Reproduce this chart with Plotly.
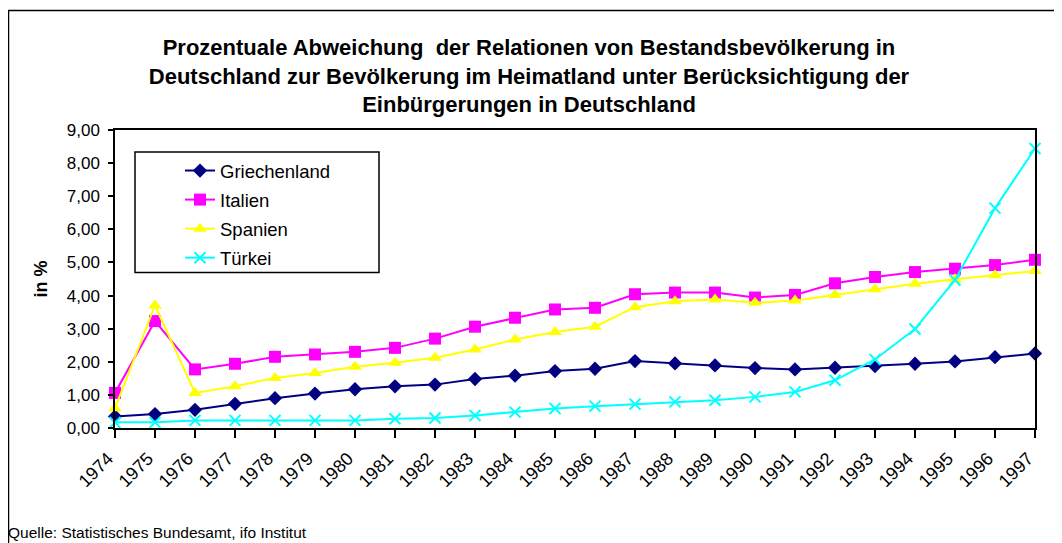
import plotly.graph_objects as go

years = list(range(1974, 1998))
year_labels = [str(y) for y in years]

griechenland = [0.35, 0.42, 0.55, 0.73, 0.90, 1.04, 1.17, 1.26, 1.31, 1.48, 1.58, 1.72, 1.79, 2.02, 1.95,
                1.89, 1.81, 1.77, 1.82, 1.87, 1.94, 2.01, 2.14, 2.25]
italien = [1.06, 3.23, 1.77, 1.94, 2.15, 2.22, 2.30, 2.42, 2.70, 3.06, 3.33, 3.58, 3.63, 4.04, 4.09,
           4.09, 3.94, 4.02, 4.37, 4.56, 4.71, 4.81, 4.92, 5.08]
spanien = [0.60, 3.70, 1.06, 1.26, 1.51, 1.66, 1.85, 1.97, 2.12, 2.37, 2.67, 2.90, 3.06, 3.65, 3.83,
           3.88, 3.78, 3.85, 4.02, 4.19, 4.36, 4.49, 4.61, 4.74]
tuerkei = [0.17, 0.17, 0.23, 0.23, 0.23, 0.23, 0.23, 0.28, 0.30, 0.38, 0.48, 0.59, 0.66, 0.72, 0.79,
           0.84, 0.94, 1.09, 1.44, 2.07, 2.99, 4.47, 6.64, 8.44]

series = [
    ("Griechenland", griechenland, "#000080", "diamond", 11),
    ("Italien", italien, "#FF00FF", "square", 12),
    ("Spanien", spanien, "#FFFF00", "triangle-up", 12),
    ("Türkei", tuerkei, "#00FFFF", "x-thin", 11),
]

# the page body adds an 8px offset; all positions below are page pixels
OFF = 8
W, H = 1062 - OFF, 543 - OFF
L, R, T, B = 115 - OFF, 1035 - OFF, 130 - OFF, 428 - OFF
pw, ph = R - L, B - T

def px(x):
    return (x - OFF - L) / pw

def py(y):
    return (B - (y - OFF)) / ph

fig = go.Figure()
for i, (name, vals, color, sym, size) in enumerate(series):
    marker = dict(symbol=sym, size=size, color=color)
    if sym == "x-thin":
        marker["line"] = dict(color=color, width=2)
    fig.add_trace(go.Scatter(
        x=years, y=vals, name=name, mode="lines+markers", legendgroup=f"g{i}",
        line=dict(color=color, width=2), marker=marker, cliponaxis=False,
    ))

fig.update_layout(
    width=W, height=H,
    margin=dict(l=L, r=W - R, t=T, b=H - B),
    paper_bgcolor="white", plot_bgcolor="white",
    separators=",.",
    font=dict(family="Liberation Sans, Arial, sans-serif", color="black"),
    title=dict(
        text="<b>Prozentuale Abweichung  der Relationen von Bestandsbevölkerung in<br>"
             "Deutschland zur Bevölkerung im Heimatland unter Berücksichtigung der<br>"
             "Einbürgerungen in Deutschland</b>",
        x=(529 - OFF) / W, xanchor="center", y=(H - (55 - OFF)) / H, yanchor="top",
        font=dict(size=22, color="black"),
    ),
    xaxis=dict(
        range=[1974, 1997], tickmode="array", tickvals=years, ticktext=year_labels,
        tickangle=-45, ticks="outside", ticklen=8, tickwidth=1.5, tickcolor="black",
        showline=True, linecolor="black", linewidth=2, mirror=True,
        showgrid=False, zeroline=False, tickfont=dict(size=18),
        ticklabelshift=-7, ticklabelstandoff=3,
    ),
    yaxis=dict(
        range=[0, 9], dtick=1, tickformat=".2f", ticks="outside", ticklen=5,
        tickwidth=1.5, tickcolor="black",
        showline=True, linecolor="black", linewidth=1.5, mirror=True,
        showgrid=False, zeroline=False, tickfont=dict(size=17),
        ticklabelstandoff=5,
        title=dict(text="<b>in %</b>", font=dict(size=18), standoff=14),
    ),
    legend=dict(
        x=px(180), y=py(152), xanchor="left", yanchor="top",
        bgcolor="rgba(0,0,0,0)", borderwidth=0, font=dict(size=18.5),
        traceorder="grouped", tracegroupgap=2,
    ),
    showlegend=True,
)

# legend frame
fig.add_shape(type="rect", xref="paper", yref="paper",
              x0=px(135), x1=px(379), y0=py(272.5), y1=py(152),
              line=dict(color="black", width=1.5), fillcolor="rgba(0,0,0,0)")
# outer chart frame
fig.add_shape(type="rect", xref="paper", yref="paper",
              x0=px(8.5), x1=px(1090), y0=py(600), y1=py(10.5),
              line=dict(color="black", width=1.5), fillcolor="rgba(0,0,0,0)")

fig.add_annotation(
    text="Quelle: Statistisches Bundesamt, ifo Institut",
    xref="paper", yref="paper", x=px(6), y=py(532), xanchor="left", yanchor="middle",
    showarrow=False, font=dict(size=15.5, color="black"),
)

fig.write_html("out.html")
